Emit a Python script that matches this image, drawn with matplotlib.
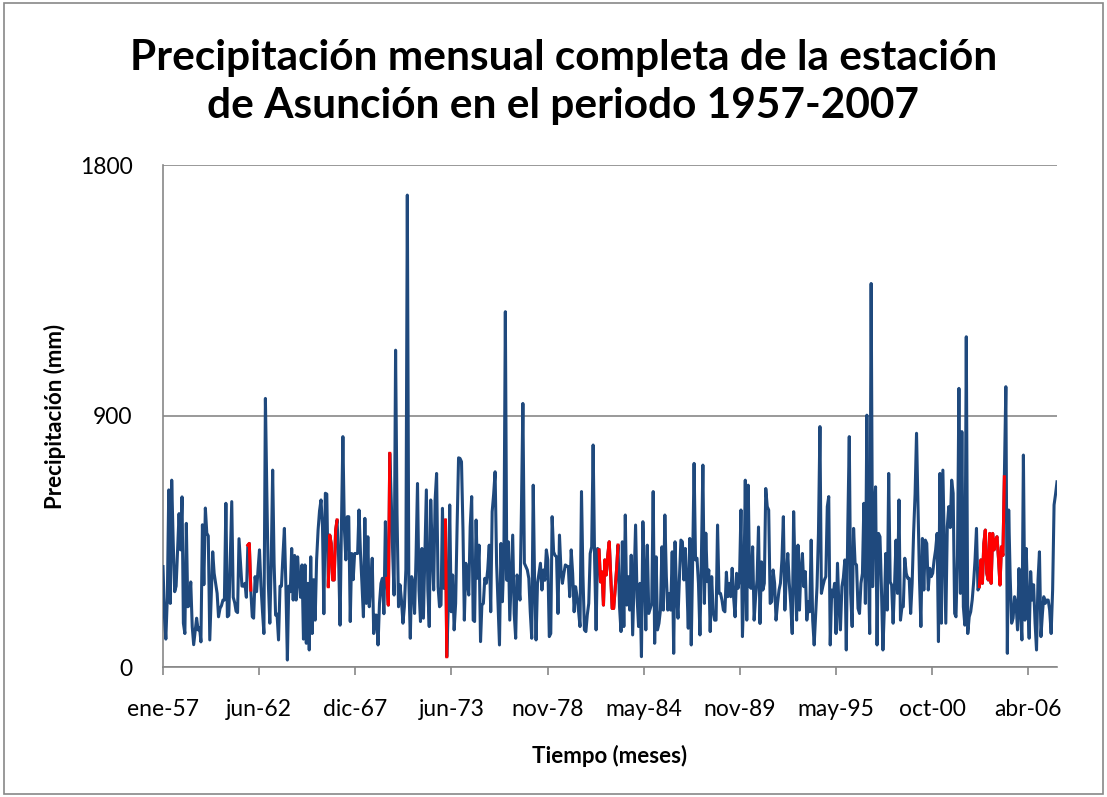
import datetime as dt
import numpy as np
import matplotlib
matplotlib.use("Agg")
import matplotlib.pyplot as plt
import matplotlib.dates as mdates

# Monthly precipitation (mm), Asuncion, Jan 1957 - Dec 2007
prec_1957_1961 = [360, 180, 100, 250, 635, 228, 670, 450, 270, 290, 420, 550,
                  420, 610, 157, 120, 515, 216, 220, 305, 145, 80, 130, 175,
                  133, 140, 90, 510, 295, 570, 480, 470, 97, 250, 413, 336,
                  300, 264, 180, 210, 220, 240, 240, 587, 180, 185, 400, 593,
                  250, 230, 200, 195, 460, 372, 290, 290, 300, 250, 437, 443]
prec_1962_1966 = [276, 180, 175, 324, 270, 350, 420, 290, 200, 120, 963, 623,
                  300, 157, 366, 706, 372, 186, 190, 97, 290, 290, 400, 497,
                  290, 25, 290, 270, 425, 240, 400, 240, 395, 306, 250, 366,
                  100, 366, 85, 300, 61, 395, 120, 313, 168, 384, 491, 560,
                  599, 500, 191, 623, 620, 288, 473, 443, 312, 312, 491, 527]
prec_1967_1971 = [395, 150, 500, 826, 500, 384, 539, 539, 163, 407, 313, 407,
                  407, 407, 563, 407, 300, 180, 533, 228, 467, 216, 300, 390,
                  120, 186, 186, 79, 228, 300, 318, 191, 521, 318, 222, 766,
                  598, 400, 258, 1136, 551, 216, 295, 240, 157, 216, 350, 1692,
                  311, 103, 324, 300, 192, 400, 658, 276, 163, 425, 175, 400]
prec_1972_1976 = [635, 276, 145, 599, 420, 276, 599, 694, 288, 216, 222, 569,
                  282, 527, 37, 216, 581, 198, 330, 133, 228, 500, 750, 748,
                  736, 491, 168, 372, 311, 258, 503, 611, 168, 163, 527, 318,
                  437, 91, 222, 228, 318, 300, 350, 437, 198, 557, 620, 700,
                  372, 216, 79, 443, 234, 400, 1274, 311, 449, 168, 320, 473]
prec_1977_1981 = [192, 103, 330, 300, 240, 569, 945, 372, 360, 348, 318, 198,
                  103, 652, 311, 97, 300, 336, 372, 276, 348, 311, 420, 384,
                  109, 120, 539, 413, 400, 395, 192, 473, 348, 300, 336, 366,
                  362, 360, 252, 420, 336, 198, 288, 252, 200, 145, 629, 330,
                  133, 127, 186, 228, 407, 431, 796, 384, 133, 425, 420, 305]
prec_1982_1986 = [341, 222, 384, 330, 400, 449, 330, 210, 210, 276, 350, 437,
                  216, 127, 449, 145, 545, 222, 324, 204, 401, 115, 318, 509,
                  250, 145, 300, 37, 521, 336, 133, 437, 192, 210, 228, 629,
                  85, 395, 133, 157, 204, 431, 204, 545, 324, 204, 264, 204,
                  413, 49, 449, 264, 175, 324, 455, 449, 312, 425, 300, 139]
prec_1987_1991 = [461, 79, 366, 730, 384, 390, 300, 115, 400, 724, 228, 480,
                  306, 348, 127, 324, 200, 168, 168, 509, 264, 264, 240, 204,
                  198, 340, 252, 300, 252, 354, 250, 180, 336, 282, 318, 563,
                  109, 300, 670, 168, 652, 288, 282, 431, 168, 250, 312, 502,
                  156, 377, 276, 300, 640, 575, 563, 228, 234, 348, 300, 168]
prec_1992_1996 = [228, 276, 300, 384, 539, 204, 324, 407, 300, 228, 120, 557,
                  324, 168, 437, 204, 350, 407, 288, 342, 168, 234, 198, 455,
                  168, 79, 180, 288, 479, 862, 264, 290, 312, 324, 575, 611,
                  79, 276, 252, 300, 120, 372, 216, 133, 288, 320, 384, 61,
                  500, 826, 264, 145, 497, 372, 366, 210, 192, 300, 336, 587]
prec_1997_2001 = [228, 903, 384, 120, 1375, 288, 563, 646, 79, 479, 467, 282,
                  61, 216, 407, 204, 694, 305, 294, 157, 300, 455, 264, 599,
                  168, 216, 216, 390, 336, 318, 318, 192, 300, 480, 620, 838,
                  575, 312, 145, 461, 276, 455, 443, 276, 354, 324, 336, 384,
                  420, 479, 91, 694, 157, 706, 443, 157, 503, 575, 500, 670]
prec_2002_2007 = [623, 192, 180, 400, 999, 264, 844, 216, 150, 1184, 120, 180,
                  198, 240, 300, 384, 497, 276, 288, 384, 300, 443, 491, 336,
                  312, 479, 300, 479, 420, 455, 467, 390, 294, 431, 400, 682,
                  1005, 49, 563, 324, 157, 175, 252, 228, 133, 353, 200, 97,
                  760, 168, 425, 228, 103, 342, 240, 295, 157, 61, 312, 413,
                  109, 192, 252, 228, 240, 240, 204, 120, 276, 581, 620, 664]

# runs of months (index from Jan 1957) that were filled in
filled_runs = [(58, 60), (113, 119), (153, 155), (193, 194), (298, 311), (558, 575)]

month_abbr = ["ene", "feb", "mar", "abr", "may", "jun",
              "jul", "ago", "sep", "oct", "nov", "dic"]

prec = np.array(prec_1957_1961 + prec_1962_1966 + prec_1967_1971 + prec_1972_1976 +
                prec_1977_1981 + prec_1982_1986 + prec_1987_1991 + prec_1992_1996 +
                prec_1997_2001 + prec_2002_2007, dtype=float)
dates = [dt.date(1957 + k // 12, k % 12 + 1, 1) for k in range(len(prec))]

blue = "#1F497D"
gray = "#878787"
plt.rcParams['font.family'] = ['Lato', 'DejaVu Sans']

fig = plt.figure(figsize=(11.07, 7.97), dpi=100)
fig.patches.append(plt.Rectangle((0.004, 0.004), 0.992, 0.992, transform=fig.transFigure,
                                 fill=False, edgecolor=gray, linewidth=1.2))
ax = fig.add_axes([163 / 1107, 130 / 797, 894 / 1107, 502 / 797])

ax.plot(dates, prec, color=blue, linewidth=2.2, solid_joinstyle='round', zorder=3)
for a, b in filled_runs:
    ax.plot(dates[a:b + 1], prec[a:b + 1], color="#FF0000", linewidth=2.2,
            solid_joinstyle='round', zorder=4)

ax.set_xlim(dates[0], dates[-1])
ax.set_ylim(0, 1800)
ax.set_yticks([0, 900, 1800])
ax.yaxis.grid(True, color=gray, linewidth=1.2)
ax.set_axisbelow(True)

start = dt.date(1957, 1, 1)
xt = [start + dt.timedelta(days=2000 * k) for k in range(10)]
ax.set_xticks(xt)
ax.set_xticklabels([f"{month_abbr[d.month - 1]}-{d.year % 100:02d}" for d in xt])

for s in ["top", "right"]:
    ax.spines[s].set_visible(False)
for s in ["left", "bottom"]:
    ax.spines[s].set_color(gray)
    ax.spines[s].set_linewidth(1.2)
ax.tick_params(axis='x', colors=gray, length=6, width=1.2, labelsize=16.5,
               labelcolor='black', pad=17)
ax.tick_params(axis='y', colors=gray, length=0, labelsize=16.5, labelcolor='black', pad=22)

ax.set_xlabel("Tiempo (meses)", fontsize=16, fontweight='bold', labelpad=18)
ax.set_ylabel("Precipitación (mm)", fontsize=16, fontweight='bold', labelpad=10)
fig.text(0.509, 0.897, "Precipitación mensual completa de la estación\n"
         "de Asunción en el periodo 1957-2007",
         ha='center', va='center', fontsize=30.5, fontweight='bold', linespacing=1.3)

fig.savefig("out.png", dpi=100)
